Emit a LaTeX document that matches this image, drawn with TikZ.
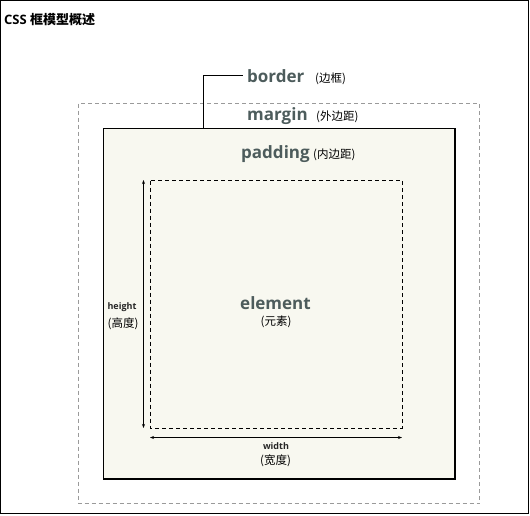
\documentclass[tikz,border=0pt]{standalone}
\usepackage{fontspec}
\setmainfont{Open Sans}
\newfontfamily\cjk{Noto Sans CJK SC}
\usetikzlibrary{arrows.meta}
\definecolor{lbl}{HTML}{4D5C5C}
\definecolor{boxfill}{HTML}{F8F8F0}
\definecolor{mgray}{HTML}{9A9A9A}
\begin{document}
\begin{tikzpicture}[x=1pt,y=-1pt,
  big/.style={font=\fontsize{17}{19}\selectfont\bfseries, text=lbl, inner sep=0pt},
  cn/.style={font=\cjk\fontsize{11.5}{13}\selectfont, text=black, inner sep=0pt},
  small/.style={font=\fontsize{9}{11}\selectfont\bfseries, text=black!85, inner sep=0pt},
  dim/.style={line width=0.9pt, {Stealth[length=4pt,width=3pt]}-{Stealth[length=4pt,width=3pt]}}]
\useasboundingbox (0,0) rectangle (530,515);
% outer frame
\draw[line width=1.2pt] (0.6,0.6) rectangle (528.5,513.5);
\node[anchor=base west, inner sep=0pt, font=\fontsize{13}{15}\selectfont\bfseries] (title) at (4,24) {CSS {\cjk 框模型概述}};
% margin
\draw[mgray, line width=0.9pt, dash pattern=on 4pt off 3pt] (78.5,103.5) rectangle (479.5,503.5);
% border box
\draw[line width=1.2pt, fill=boxfill] (103.5,128.5) rectangle (455,479);
% element
\draw[line width=0.9pt, dash pattern=on 4pt off 3pt] (150.5,180.5) rectangle (402,428);
\coordinate (bl) at (203.5,128.5);
\coordinate (bc) at (203.5,75.5);
\coordinate (be) at (243,75.5);
\draw[line width=0.9pt] (bl) -- (bc) -- (be);
% labels
\node[big, anchor=base west] (border) at (247,82) {border};
\node[cn, anchor=base west] (bordercn) at (315,82) {(边框)};
\node[big, anchor=base west] (margin) at (247,120) {margin};
\node[cn, anchor=base west] (margincn) at (316,120) {(外边距)};
\node[big, anchor=base west] (padding) at (241,158) {padding};
\node[cn, anchor=base west] (paddingcn) at (313,158) {(内边距)};
\node[big, anchor=base] (element) at (275.5,309) {element};
\node[cn] (elementcn) at (276,321.5) {(元素)};
% dimension arrows
\coordinate (ht) at (143.5,180);
\coordinate (hb) at (143.5,428);
\draw[dim] (ht) -- (hb);
\coordinate (wl) at (150,437.5);
\coordinate (wr) at (402,437.5);
\draw[dim] (wl) -- (wr);
\node[small, anchor=base] (height) at (122,309) {height};
\node[cn] (heightcn) at (123,323.5) {(高度)};
\node[small, anchor=base] (width) at (276,449) {width};
\node[cn] (widthcn) at (275.5,460.5) {(宽度)};
\end{tikzpicture}
\end{document}
